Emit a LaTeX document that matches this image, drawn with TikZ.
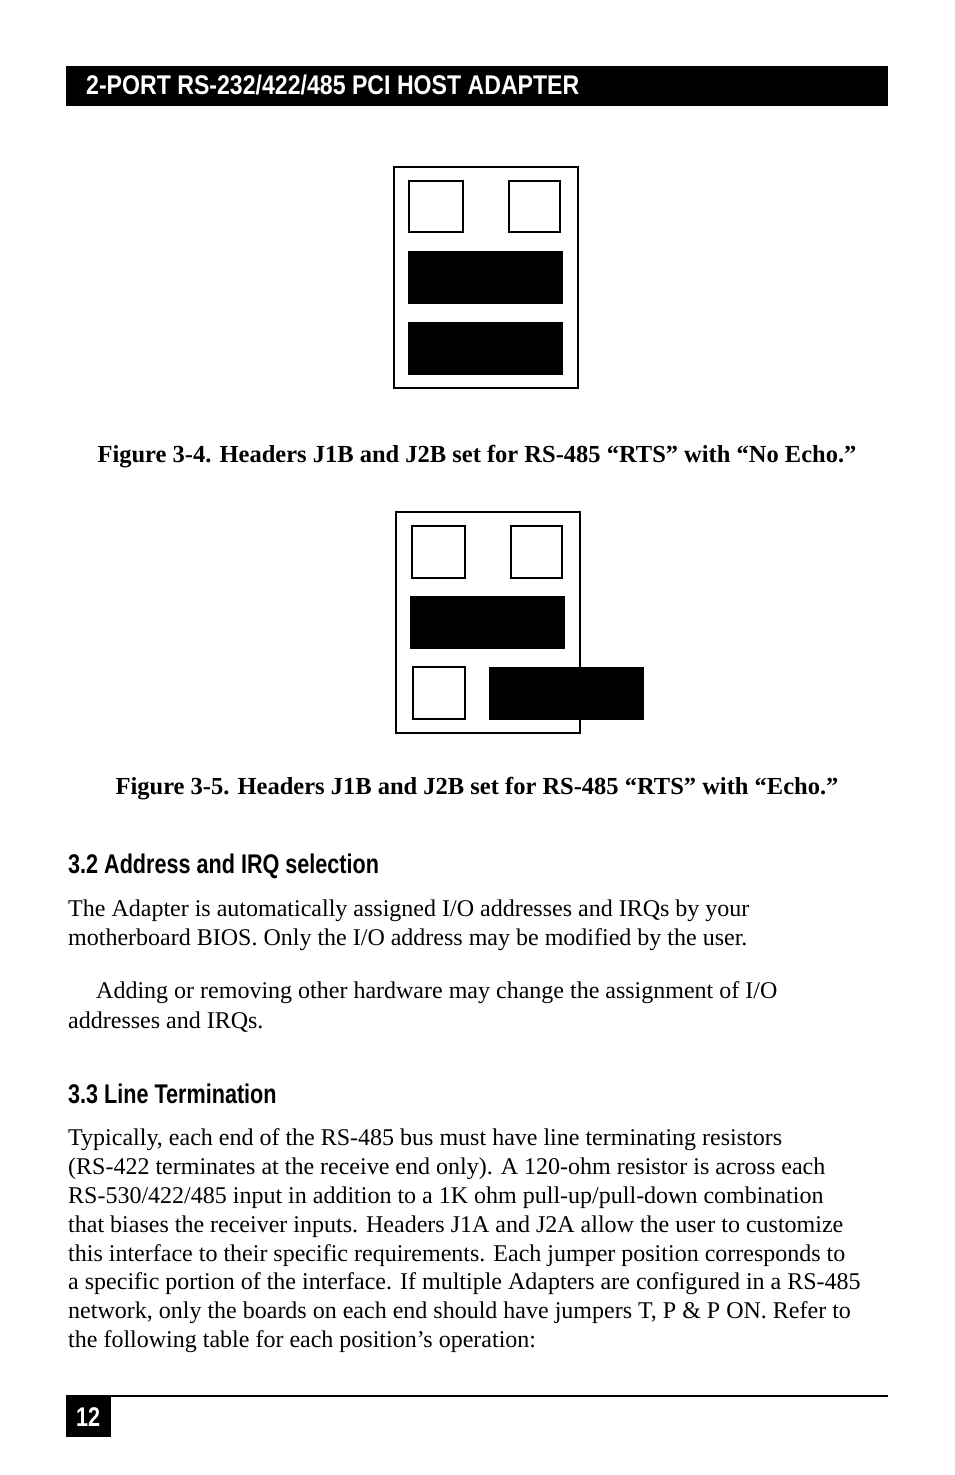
\documentclass[tikz,border=0pt]{standalone}
\usepackage{fontspec}
\setmainfont{Liberation Serif}
\newfontfamily\headfont{Liberation Sans}
\tikzset{
  board/.style = {draw=black, line width=2.5pt},
  pinbox/.style = {draw=black, line width=1.5pt},
  jumper/.style = {fill=black},
  bodyline/.style = {anchor=west, inner sep=0pt, font=\fontsize{24}{28}\selectfont},
  caption/.style = {inner sep=0pt, font=\fontsize{24.5}{28}\selectfont\bfseries},
  heading/.style = {anchor=west, inner sep=0pt, xscale=0.8, transform shape,
    font=\fontsize{27}{30}\selectfont\headfont\bfseries}
}
\begin{document}
\begin{tikzpicture}[x=1pt,y=-1pt]
\useasboundingbox (0,0) rectangle (954,1475);
% page header
\fill (66,66) rectangle (888,106);
\node[heading, white, xscale=1.07] (title) at (86,85) {2-PORT RS-232/422/485 PCI HOST ADAPTER};
% figure 3-4
\draw[board] (394,167) rectangle (578,388);
\draw[pinbox] (409,181) rectangle (463,232);
\draw[pinbox] (509,181) rectangle (560,232);
\fill[jumper] (408,251) rectangle (563,304);
\fill[jumper] (408,322) rectangle (563,375);
\node[caption] (capa) at (477,457) {Figure 3-4. Headers J1B and J2B set for RS-485 “RTS” with “No Echo.”};
% figure 3-5
\draw[board] (396,512) rectangle (580,733);
\draw[pinbox] (412,526) rectangle (465,578);
\draw[pinbox] (511,526) rectangle (562,578);
\fill[jumper] (410,596) rectangle (565,649);
\draw[pinbox] (413,667) rectangle (465,719);
\fill[jumper] (489,667) rectangle (644,720);
\node[caption] (capb) at (477,789) {Figure 3-5. Headers J1B and J2B set for RS-485 “RTS” with “Echo.”};
% section 3.2
\node[heading] (seca) at (68,866) {3.2 Address and IRQ selection};
\node[bodyline] (la1) at (68,911) {The Adapter is automatically assigned I/O addresses and IRQs by your};
\node[bodyline] (la2) at (68,940) {motherboard BIOS. Only the I/O address may be modified by the user.};
\node[bodyline] (la3) at (96,993) {Adding or removing other hardware may change the assignment of I/O};
\node[bodyline] (la4) at (68,1022) {addresses and IRQs.};
% section 3.3
\node[heading] (secb) at (68,1094) {3.3 Line Termination};
\node[bodyline] (lb1) at (68,1140) {Typically, each end of the RS-485 bus must have line terminating resistors};
\node[bodyline] (lb2) at (68,1169) {(RS-422 terminates at the receive end only). A 120-ohm resistor is across each};
\node[bodyline] (lb3) at (68,1198) {RS-530/422/485 input in addition to a 1K ohm pull-up/pull-down combination};
\node[bodyline] (lb4) at (68,1227) {that biases the receiver inputs. Headers J1A and J2A allow the user to customize};
\node[bodyline] (lb5) at (68,1256) {this interface to their specific requirements. Each jumper position corresponds to};
\node[bodyline] (lb6) at (68,1284) {a specific portion of the interface. If multiple Adapters are configured in a RS-485};
\node[bodyline] (lb7) at (68,1313) {network, only the boards on each end should have jumpers T, P \& P ON. Refer to};
\node[bodyline] (lb8) at (68,1342) {the following table for each position’s operation:};
% page footer
\draw[line width=1.2pt] (66,1396) -- (888,1396);
\fill (66,1397) rectangle (111,1437);
\node[heading, white] (pageno) at (76,1417) {12};
\end{tikzpicture}
\end{document}
